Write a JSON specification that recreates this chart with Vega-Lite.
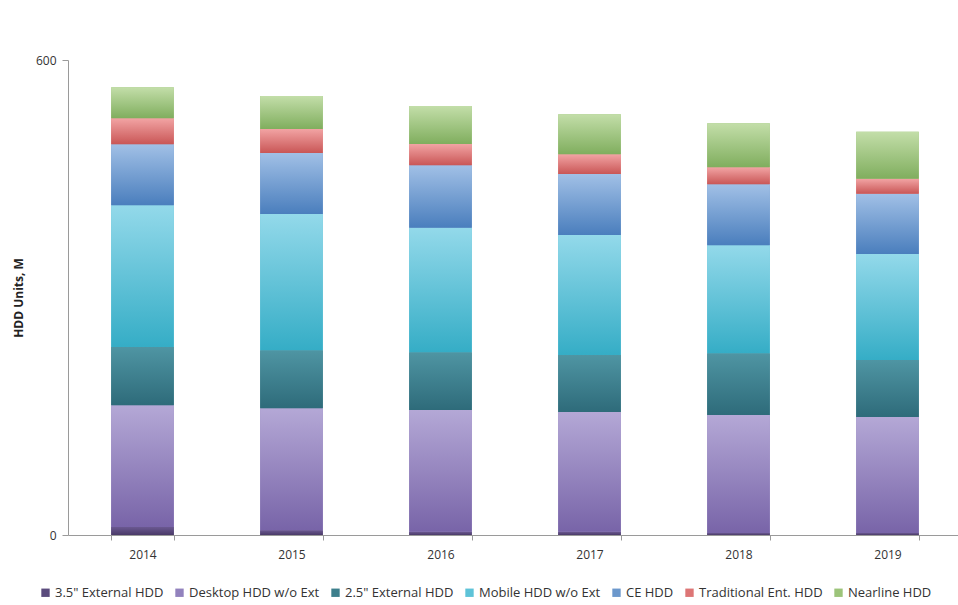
{
  "$schema": "https://vega.github.io/schema/vega-lite/v6.json",
  "autosize": "none",
  "width": 894,
  "height": 475,
  "padding": {"left": 68, "top": 60, "right": 0, "bottom": 70},
  "background": "white",
  "config": {"view": {"stroke": null}, "font": "Open Sans"},
  "data": {"values": [
    {"year": "2014", "segment": "3.5\" External HDD", "k": 1, "units": 10},
    {"year": "2014", "segment": "Desktop HDD w/o Ext", "k": 2, "units": 154},
    {"year": "2014", "segment": "2.5\" External HDD", "k": 3, "units": 73.5},
    {"year": "2014", "segment": "Mobile HDD w/o Ext", "k": 4, "units": 179},
    {"year": "2014", "segment": "CE HDD", "k": 5, "units": 77},
    {"year": "2014", "segment": "Traditional Ent. HDD", "k": 6, "units": 33},
    {"year": "2014", "segment": "Nearline HDD", "k": 7, "units": 39},
    {"year": "2015", "segment": "3.5\" External HDD", "k": 1, "units": 6},
    {"year": "2015", "segment": "Desktop HDD w/o Ext", "k": 2, "units": 154},
    {"year": "2015", "segment": "2.5\" External HDD", "k": 3, "units": 73.5},
    {"year": "2015", "segment": "Mobile HDD w/o Ext", "k": 4, "units": 172},
    {"year": "2015", "segment": "CE HDD", "k": 5, "units": 77},
    {"year": "2015", "segment": "Traditional Ent. HDD", "k": 6, "units": 30.5},
    {"year": "2015", "segment": "Nearline HDD", "k": 7, "units": 41.5},
    {"year": "2016", "segment": "3.5\" External HDD", "k": 1, "units": 4},
    {"year": "2016", "segment": "Desktop HDD w/o Ext", "k": 2, "units": 154},
    {"year": "2016", "segment": "2.5\" External HDD", "k": 3, "units": 73},
    {"year": "2016", "segment": "Mobile HDD w/o Ext", "k": 4, "units": 157},
    {"year": "2016", "segment": "CE HDD", "k": 5, "units": 79},
    {"year": "2016", "segment": "Traditional Ent. HDD", "k": 6, "units": 27},
    {"year": "2016", "segment": "Nearline HDD", "k": 7, "units": 48},
    {"year": "2017", "segment": "3.5\" External HDD", "k": 1, "units": 4},
    {"year": "2017", "segment": "Desktop HDD w/o Ext", "k": 2, "units": 151.5},
    {"year": "2017", "segment": "2.5\" External HDD", "k": 3, "units": 72},
    {"year": "2017", "segment": "Mobile HDD w/o Ext", "k": 4, "units": 151.5},
    {"year": "2017", "segment": "CE HDD", "k": 5, "units": 77},
    {"year": "2017", "segment": "Traditional Ent. HDD", "k": 6, "units": 25},
    {"year": "2017", "segment": "Nearline HDD", "k": 7, "units": 50.5},
    {"year": "2018", "segment": "3.5\" External HDD", "k": 1, "units": 2.5},
    {"year": "2018", "segment": "Desktop HDD w/o Ext", "k": 2, "units": 149},
    {"year": "2018", "segment": "2.5\" External HDD", "k": 3, "units": 78},
    {"year": "2018", "segment": "Mobile HDD w/o Ext", "k": 4, "units": 136.5},
    {"year": "2018", "segment": "CE HDD", "k": 5, "units": 77},
    {"year": "2018", "segment": "Traditional Ent. HDD", "k": 6, "units": 21.5},
    {"year": "2018", "segment": "Nearline HDD", "k": 7, "units": 55.5},
    {"year": "2019", "segment": "3.5\" External HDD", "k": 1, "units": 2.5},
    {"year": "2019", "segment": "Desktop HDD w/o Ext", "k": 2, "units": 146.5},
    {"year": "2019", "segment": "2.5\" External HDD", "k": 3, "units": 72},
    {"year": "2019", "segment": "Mobile HDD w/o Ext", "k": 4, "units": 134},
    {"year": "2019", "segment": "CE HDD", "k": 5, "units": 76},
    {"year": "2019", "segment": "Traditional Ent. HDD", "k": 6, "units": 19},
    {"year": "2019", "segment": "Nearline HDD", "k": 7, "units": 59.5}
  ]},
  "transform": [
    {"stack": "units", "groupby": ["year"], "sort": [{"field": "k", "order": "ascending"}], "as": ["y0", "y1"]}
  ],
  "encoding": {
    "x": {
      "field": "year", "type": "nominal",
      "scale": {"paddingInner": 0.58, "paddingOuter": 0.29},
      "axis": {
        "title": null, "labelAngle": 0, "tickBand": "extent",
        "domainColor": "#9a9a9a", "tickColor": "#9a9a9a", "tickSize": 5,
        "labelFont": "Open Sans", "labelFontSize": 12, "labelColor": "#333333", "labelPadding": 9
      }
    },
    "y": {
      "field": "y0", "type": "quantitative",
      "scale": {"domain": [0, 600], "nice": false},
      "axis": {
        "values": [0, 600], "grid": false, "title": "HDD Units, M",
        "titleFont": "Open Sans", "titleFontSize": 12, "titleFontWeight": "bold", "titleColor": "#222222", "titlePadding": 10,
        "domainColor": "#9a9a9a", "tickColor": "#9a9a9a", "tickSize": 6,
        "labelFont": "Open Sans", "labelFontSize": 12, "labelColor": "#333333", "labelPadding": 6
      }
    },
    "y2": {"field": "y1"}
  },
  "layer": [
    {
      "mark": {"type": "bar"},
      "encoding": {
        "color": {
          "field": "segment", "type": "nominal",
          "sort": ["3.5\" External HDD", "Desktop HDD w/o Ext", "2.5\" External HDD", "Mobile HDD w/o Ext", "CE HDD", "Traditional Ent. HDD", "Nearline HDD"],
          "scale": {
            "domain": ["3.5\" External HDD", "Desktop HDD w/o Ext", "2.5\" External HDD", "Mobile HDD w/o Ext", "CE HDD", "Traditional Ent. HDD", "Nearline HDD"],
            "range": ["#5b4b7d", "#9282bd", "#3d7f8c", "#5ec3d8", "#6c98cc", "#dd7676", "#9cc47a"]
          },
          "legend": {
            "orient": "none", "direction": "horizontal", "title": null,
            "legendX": -29, "legendY": 526,
            "symbolType": "square", "symbolSize": 70, "symbolStrokeWidth": 0,
            "labelFont": "Open Sans", "labelFontSize": 13, "labelColor": "#333333",
            "columnPadding": 9, "symbolOffset": 0, "labelOffset": 3
          }
        }
      }
    },
    {
      "transform": [{"filter": "datum.k == 1"}],
      "mark": {"type": "bar", "fill": {"gradient": "linear", "x1": 0, "y1": 0, "x2": 0, "y2": 1, "stops": [{"offset": 0, "color": "#6a5890"}, {"offset": 1, "color": "#4a3a68"}]}}
    },
    {
      "transform": [{"filter": "datum.k == 2"}],
      "mark": {"type": "bar", "fill": {"gradient": "linear", "x1": 0, "y1": 0, "x2": 0, "y2": 1, "stops": [{"offset": 0, "color": "#b4a8d6"}, {"offset": 1, "color": "#7864a8"}]}}
    },
    {
      "transform": [{"filter": "datum.k == 3"}],
      "mark": {"type": "bar", "fill": {"gradient": "linear", "x1": 0, "y1": 0, "x2": 0, "y2": 1, "stops": [{"offset": 0, "color": "#4f95a3"}, {"offset": 1, "color": "#2e6b7a"}]}}
    },
    {
      "transform": [{"filter": "datum.k == 4"}],
      "mark": {"type": "bar", "fill": {"gradient": "linear", "x1": 0, "y1": 0, "x2": 0, "y2": 1, "stops": [{"offset": 0, "color": "#93d9ea"}, {"offset": 1, "color": "#35adc6"}]}}
    },
    {
      "transform": [{"filter": "datum.k == 5"}],
      "mark": {"type": "bar", "fill": {"gradient": "linear", "x1": 0, "y1": 0, "x2": 0, "y2": 1, "stops": [{"offset": 0, "color": "#a1c0e6"}, {"offset": 1, "color": "#4a7ebd"}]}}
    },
    {
      "transform": [{"filter": "datum.k == 6"}],
      "mark": {"type": "bar", "fill": {"gradient": "linear", "x1": 0, "y1": 0, "x2": 0, "y2": 1, "stops": [{"offset": 0, "color": "#f2a4a4"}, {"offset": 1, "color": "#c95656"}]}}
    },
    {
      "transform": [{"filter": "datum.k == 7"}],
      "mark": {"type": "bar", "fill": {"gradient": "linear", "x1": 0, "y1": 0, "x2": 0, "y2": 1, "stops": [{"offset": 0, "color": "#c3dea9"}, {"offset": 1, "color": "#80ae5e"}]}}
    }
  ]
}
